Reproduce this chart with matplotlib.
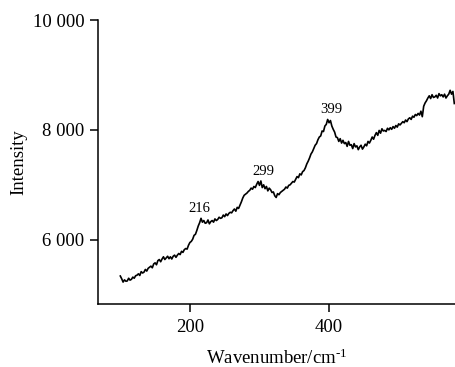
import numpy as np
import matplotlib
matplotlib.use("Agg")
import matplotlib.pyplot as plt
from matplotlib.ticker import FuncFormatter, FixedLocator

plt.rcParams['font.family'] = ['Liberation Serif', 'DejaVu Serif']
plt.rcParams['mathtext.fontset'] = 'custom'
plt.rcParams['mathtext.rm'] = 'Liberation Serif'
plt.rcParams['mathtext.it'] = 'Liberation Serif:italic'

wavenumber = np.arange(100, 581, 2)
intensity = [
    5340, 5290, 5230, 5270, 5245, 5250, 5300, 5265, 5280, 5320,
    5300, 5345, 5355, 5380, 5350, 5420, 5395, 5410, 5460, 5430,
    5480, 5500, 5520, 5490, 5560, 5580, 5545, 5620, 5640, 5600,
    5650, 5690, 5640, 5670, 5700, 5655, 5690, 5650, 5700, 5720,
    5680, 5720, 5750, 5730, 5790, 5770, 5820, 5840, 5830, 5900,
    5950, 5970, 6010, 6080, 6100, 6170, 6250, 6310, 6390, 6320,
    6350, 6300, 6310, 6360, 6290, 6330, 6350, 6320, 6380, 6350,
    6370, 6410, 6390, 6400, 6450, 6420, 6470, 6440, 6480, 6500,
    6490, 6530, 6560, 6520, 6590, 6570, 6630, 6690, 6760, 6810,
    6830, 6850, 6880, 6900, 6940, 6920, 6970, 6950, 7010, 7060,
    6990, 7070, 6950, 7000, 6930, 6970, 6890, 6940, 6910, 6860,
    6870, 6800, 6770, 6840, 6820, 6860, 6880, 6900, 6920, 6960,
    6940, 6990, 7000, 7030, 7060, 7050, 7100, 7150, 7130, 7200,
    7180, 7240, 7260, 7310, 7380, 7430, 7490, 7560, 7600, 7660,
    7720, 7750, 7820, 7870, 7890, 7980, 7970, 8070, 8100, 8190,
    8130, 8170, 8070, 8010, 7960, 7870, 7860, 7790, 7840, 7760,
    7810, 7750, 7770, 7700, 7790, 7720, 7730, 7660, 7750, 7690,
    7710, 7640, 7690, 7720, 7650, 7690, 7740, 7710, 7790, 7760,
    7810, 7870, 7830, 7900, 7950, 7900, 7990, 7940, 8020, 7980,
    7990, 7970, 8030, 8000, 8040, 8010, 8060, 8030, 8080, 8050,
    8110, 8090, 8120, 8150, 8130, 8180, 8150, 8200, 8220, 8190,
    8250, 8230, 8280, 8260, 8300, 8270, 8340, 8240, 8430, 8490,
    8530, 8580, 8620, 8570, 8640, 8590, 8600, 8630, 8580, 8660,
    8620, 8640, 8600, 8650, 8580, 8620, 8650, 8720, 8650, 8700,
    8480,
]
peak_labels = ["216", "299", "399"]
peak_x = [214, 305, 403.5]
peak_y = [6576, 7236, 8376]
y_ticks = [6000, 8000, 10000]
x_ticks = [200, 400]

fig = plt.figure(figsize=(4.55, 3.67), dpi=100)
ax = fig.add_axes([0.2147, 0.1708, 0.7853, 0.7747])
ax.plot(wavenumber, intensity, color='black', lw=1.2)
ax.set_xlim(67.5, 581)
ax.set_ylim(4825, 10000)
ax.spines['top'].set_visible(False)
ax.spines['right'].set_visible(False)
for s in ['left', 'bottom']:
    ax.spines[s].set_linewidth(1.1)
ax.xaxis.set_major_locator(FixedLocator(x_ticks))
ax.yaxis.set_major_locator(FixedLocator(y_ticks))
ax.yaxis.set_major_formatter(FuncFormatter(lambda v, p: '{:,}'.format(int(v)).replace(',', ' ')))
ax.tick_params(direction='out', length=5.5, width=1.1, labelsize=13.5)
ax.tick_params(axis='x', pad=5)
ax.tick_params(axis='y', pad=4)
ax.set_xlabel(r'Wavenumber/cm$^{\text{-1}}$', fontsize=13.5, labelpad=9)
ax.set_ylabel('Intensity', fontsize=13.5, labelpad=4)
for lab, xx, yy in zip(peak_labels, peak_x, peak_y):
    ax.text(xx, yy, lab, ha='center', va='center', fontsize=10.5)

fig.savefig('out.png', dpi=100)
